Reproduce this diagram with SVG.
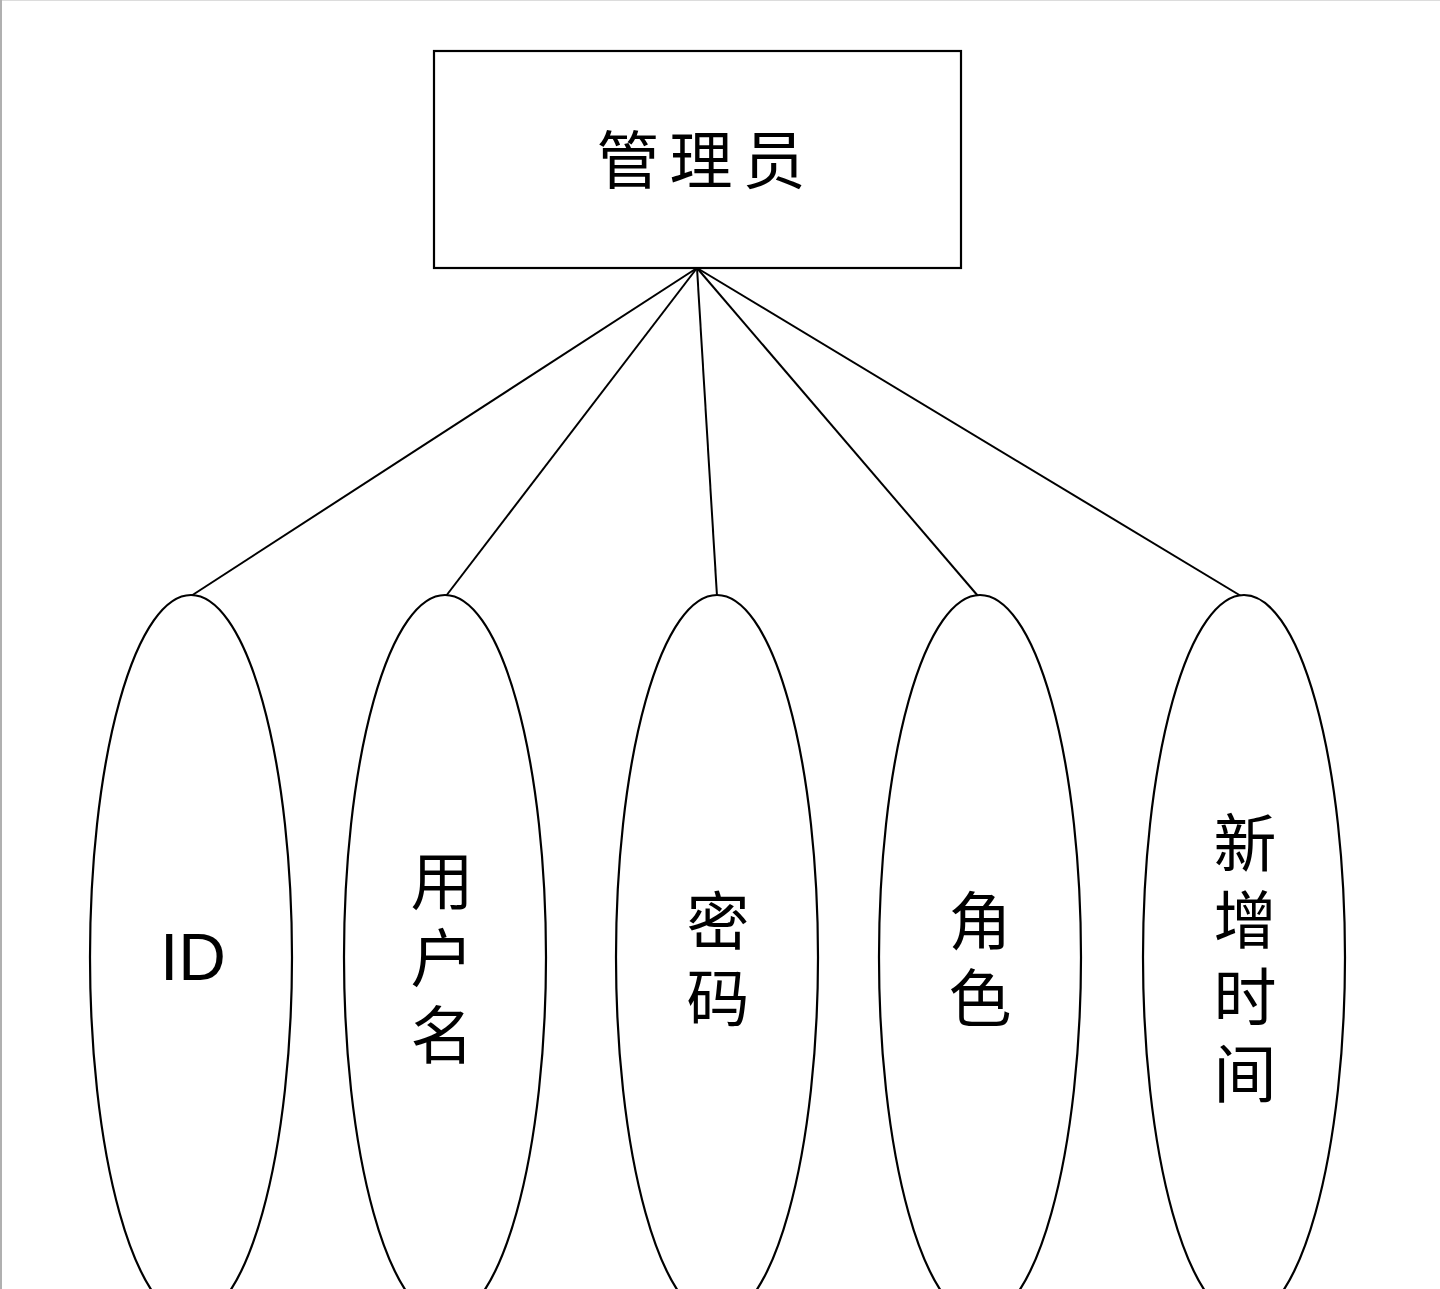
<svg xmlns="http://www.w3.org/2000/svg" width="1440" height="1289" viewBox="0 0 1440 1289">
<style>
.shape{fill:#fff;stroke:#000;stroke-width:2.2}
.conn{stroke:#000;stroke-width:2;fill:none}
.cjk{font-family:"Noto Sans CJK SC","Noto Sans",sans-serif;font-size:63px;fill:#000;text-anchor:middle}
.vert{font-family:"Noto Sans CJK SC","Noto Sans",sans-serif;font-size:63px;fill:#000;writing-mode:vertical-rl;text-anchor:start;letter-spacing:14px}
.lat{font-family:"Liberation Sans",Arial,sans-serif;font-size:66px;fill:#000;text-anchor:middle}
</style>
<rect x="0" y="0" width="1440" height="1289" fill="#fff"/>
<line x1="0" y1="0.5" x2="1440" y2="0.5" stroke="#dcdcdc" stroke-width="1"/>
<line x1="1" y1="0" x2="1" y2="1289" stroke="#b0b0b0" stroke-width="2"/>
<g id="connectors">
<line class="conn" x1="697" y1="268" x2="191" y2="596"/>
<line class="conn" x1="697" y1="268" x2="446" y2="596"/>
<line class="conn" x1="697" y1="268" x2="717" y2="596"/>
<line class="conn" x1="697" y1="268" x2="978" y2="596"/>
<line class="conn" x1="697" y1="268" x2="1241" y2="596"/>
</g>
<g id="admin">
<rect class="shape" x="434" y="51" width="527" height="217"/>
<text class="cjk" x="706" y="183" font-size="66" letter-spacing="10">管理员</text>
</g>
<g id="attr-id">
<ellipse class="shape" cx="191" cy="957" rx="101" ry="362"/>
<text class="lat" x="193" y="980">ID</text>
</g>
<g id="attr-username">
<ellipse class="shape" cx="445" cy="957" rx="101" ry="362"/>
<text class="vert" x="442" y="848.5">用户名</text>
</g>
<g id="attr-password">
<ellipse class="shape" cx="717" cy="957" rx="101" ry="362"/>
<text class="vert" x="718" y="888.5">密码</text>
</g>
<g id="attr-role">
<ellipse class="shape" cx="980" cy="957" rx="101" ry="362"/>
<text class="vert" x="980" y="888.5">角色</text>
</g>
<g id="attr-created">
<ellipse class="shape" cx="1244" cy="957" rx="101" ry="362"/>
<text class="vert" x="1245" y="810.5">新增时间</text>
</g>
</svg>
